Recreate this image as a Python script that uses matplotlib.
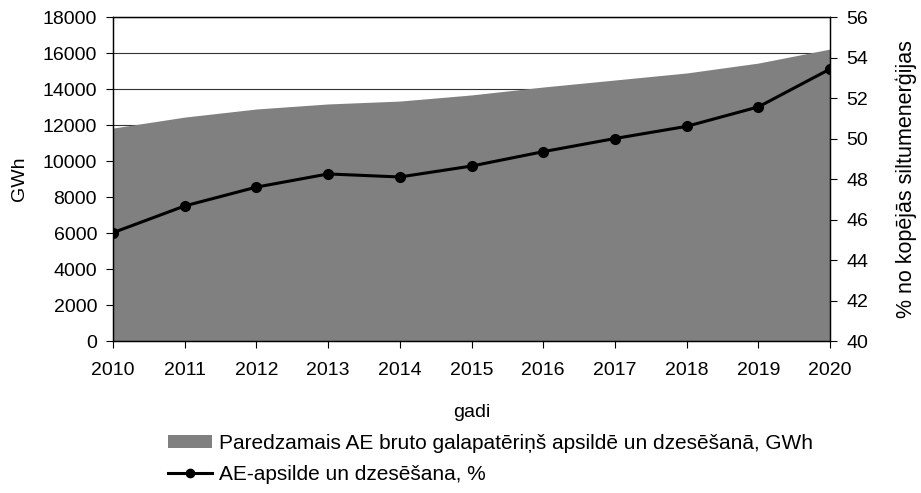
import matplotlib.pyplot as plt
from matplotlib.patches import Patch
from matplotlib.lines import Line2D

plt.rcParams['font.family'] = ['Liberation Sans', 'DejaVu Sans']

# dati
gadi = [2010, 2011, 2012, 2013, 2014, 2015, 2016, 2017, 2018, 2019, 2020]
patercins_gwh = [11830, 12440, 12890, 13170, 13330, 13670, 14110, 14500, 14890, 15440, 16220]
ae_procenti = [45.35, 46.67, 47.6, 48.25, 48.1, 48.64, 49.35, 50.0, 50.6, 51.56, 53.43]

fig = plt.figure(figsize=(9.21, 4.93), dpi=100)
ax = fig.add_axes([0.1227, 0.3083, 0.7785, 0.6572])

# laukums (kreisā ass)
ax.set_axisbelow(True)
ax.grid(axis='y', color='#333333', linewidth=0.8, zorder=0)
ax.fill_between(gadi, patercins_gwh, 0, color='#808080', linewidth=0, zorder=2)
ax.set_xlim(2010, 2020)
ax.set_ylim(0, 18000)
ax.set_yticks(range(0, 18001, 2000))
ax.set_xticks(gadi)
ax.tick_params(axis='y', direction='out', length=5, labelsize=14, pad=6.5)
ax.tick_params(axis='x', direction='out', length=5, labelsize=14, pad=10)
ax.set_ylabel('GWh', fontsize=14, va='center', ha='center')
ax.yaxis.set_label_coords(-0.13, 0.5)
ax.set_xlabel('gadi', fontsize=14, va='center', ha='center')
ax.xaxis.set_label_coords(0.5, -0.222)

# līnija (labā ass)
ax2 = ax.twinx()
ax2.plot(gadi, ae_procenti, color='black', linewidth=2.2, marker='o', markersize=7)
ax2.set_ylim(40, 56)
ax2.set_yticks(range(40, 57, 2))
ax2.tick_params(direction='out', length=5, labelsize=14, pad=7)
ax2.set_ylabel('% no kopējās siltumenerģijas', fontsize=15.5, va='center', ha='center')
ax2.yaxis.set_label_coords(1.106, 0.5)

for a in (ax, ax2):
    for s in a.spines.values():
        s.set_color('black')
        s.set_linewidth(0.9)

# leģenda
handles = [
    Patch(facecolor='#808080', edgecolor='none'),
    Line2D([0], [0], color='black', linewidth=2.2, marker='o', markersize=6),
]
labels = [
    'Paredzamais AE bruto galapatēriņš apsildē un dzesēšanā, GWh',
    'AE-apsilde un dzesēšana, %',
]
fig.legend(handles, labels, loc='upper left', bbox_to_anchor=(0.1824, 0.1197),
           frameon=False, fontsize=15, handlelength=2.1, handleheight=0.63,
           handletextpad=0.35, labelspacing=0.6, borderpad=0, borderaxespad=0)

fig.savefig('out.png', dpi=100)
